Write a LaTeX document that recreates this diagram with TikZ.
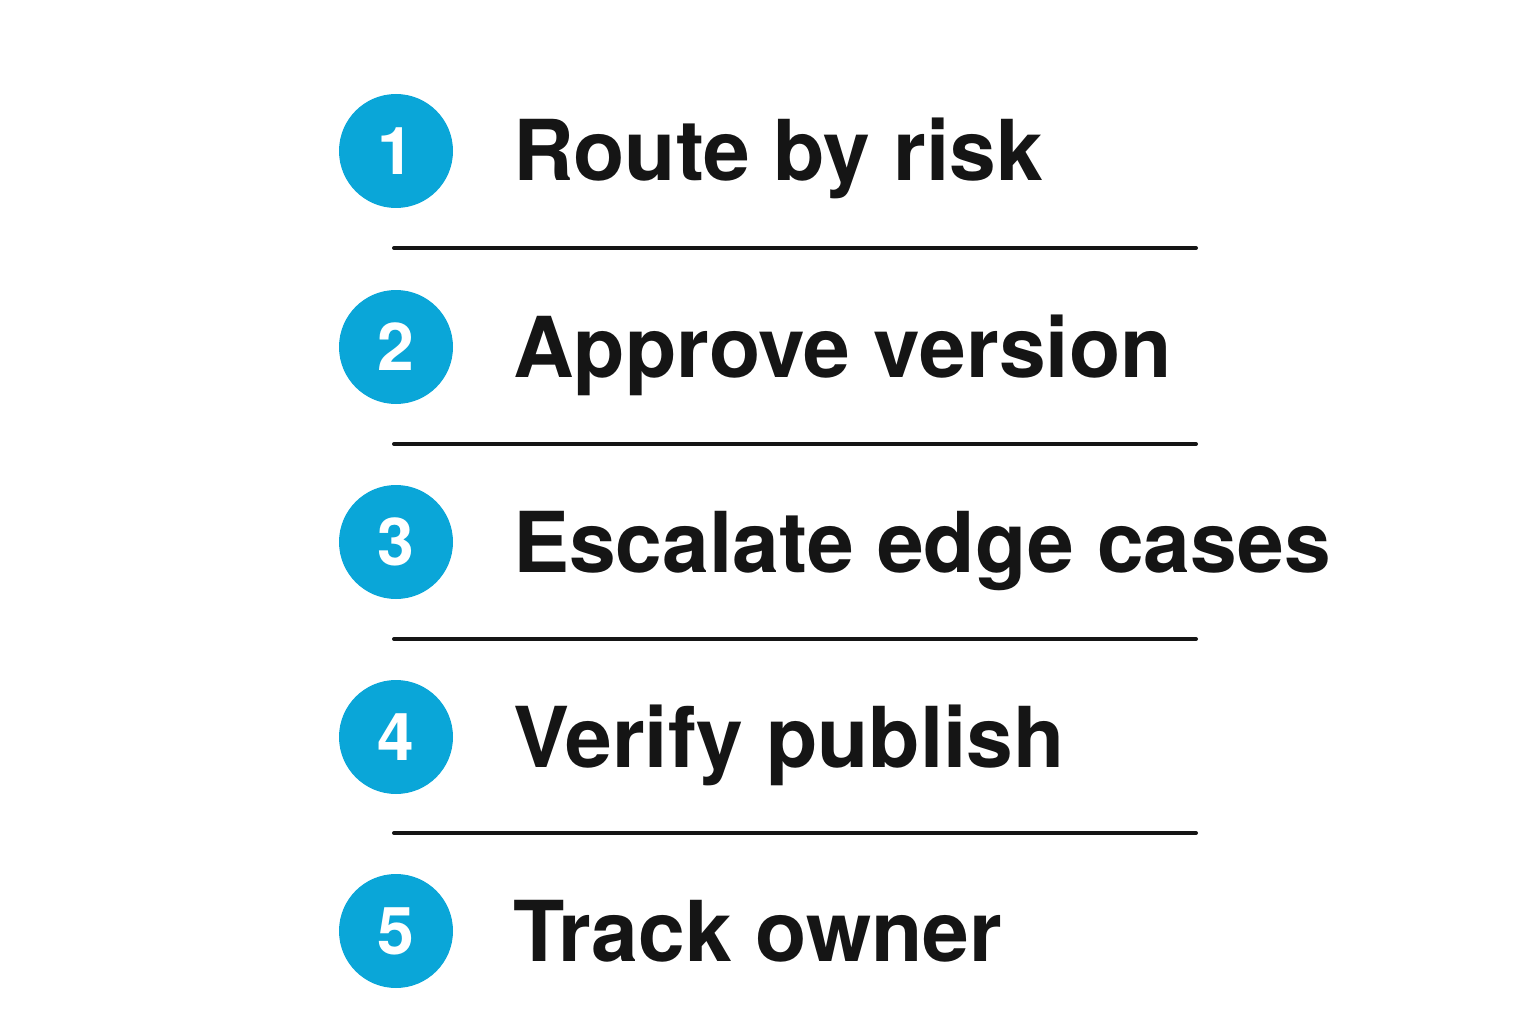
\documentclass[tikz,border=0pt]{standalone}
\usepackage{fontspec}
\setmainfont{TeX Gyre Heros}
\definecolor{cyanc}{HTML}{0AA6D8}
\definecolor{txt}{HTML}{151515}
\begin{document}
\begin{tikzpicture}[x=1pt,y=-1pt,
  badge/.style={circle,fill=cyanc,minimum size=114pt,inner sep=0pt,text=white,font=\fontsize{66}{66}\selectfont\bfseries},
  label/.style={anchor=base west,text=txt,inner sep=0pt,font=\fontsize{84}{84}\selectfont\bfseries},
  sep/.style={line width=4pt,draw=txt,line cap=round}]
\useasboundingbox (0,0) rectangle (1536,1024);
\foreach \i/\y/\t in {1/151/Route by risk,2/347/Approve version,3/542/Escalate edge cases,4/737/Verify publish,5/931/Track owner}{
  \node[badge] (b\i) at (396,\y) {\i};
  \node[label] (t\i) at (513,\y+30) {\t};
}
\foreach \i/\y in {1/248,2/444,3/639,4/833}{
  \coordinate (l\i) at (394,\y);
  \coordinate (r\i) at (1196,\y);
  \draw[sep] (l\i) -- (r\i);
}
\end{tikzpicture}
\end{document}
